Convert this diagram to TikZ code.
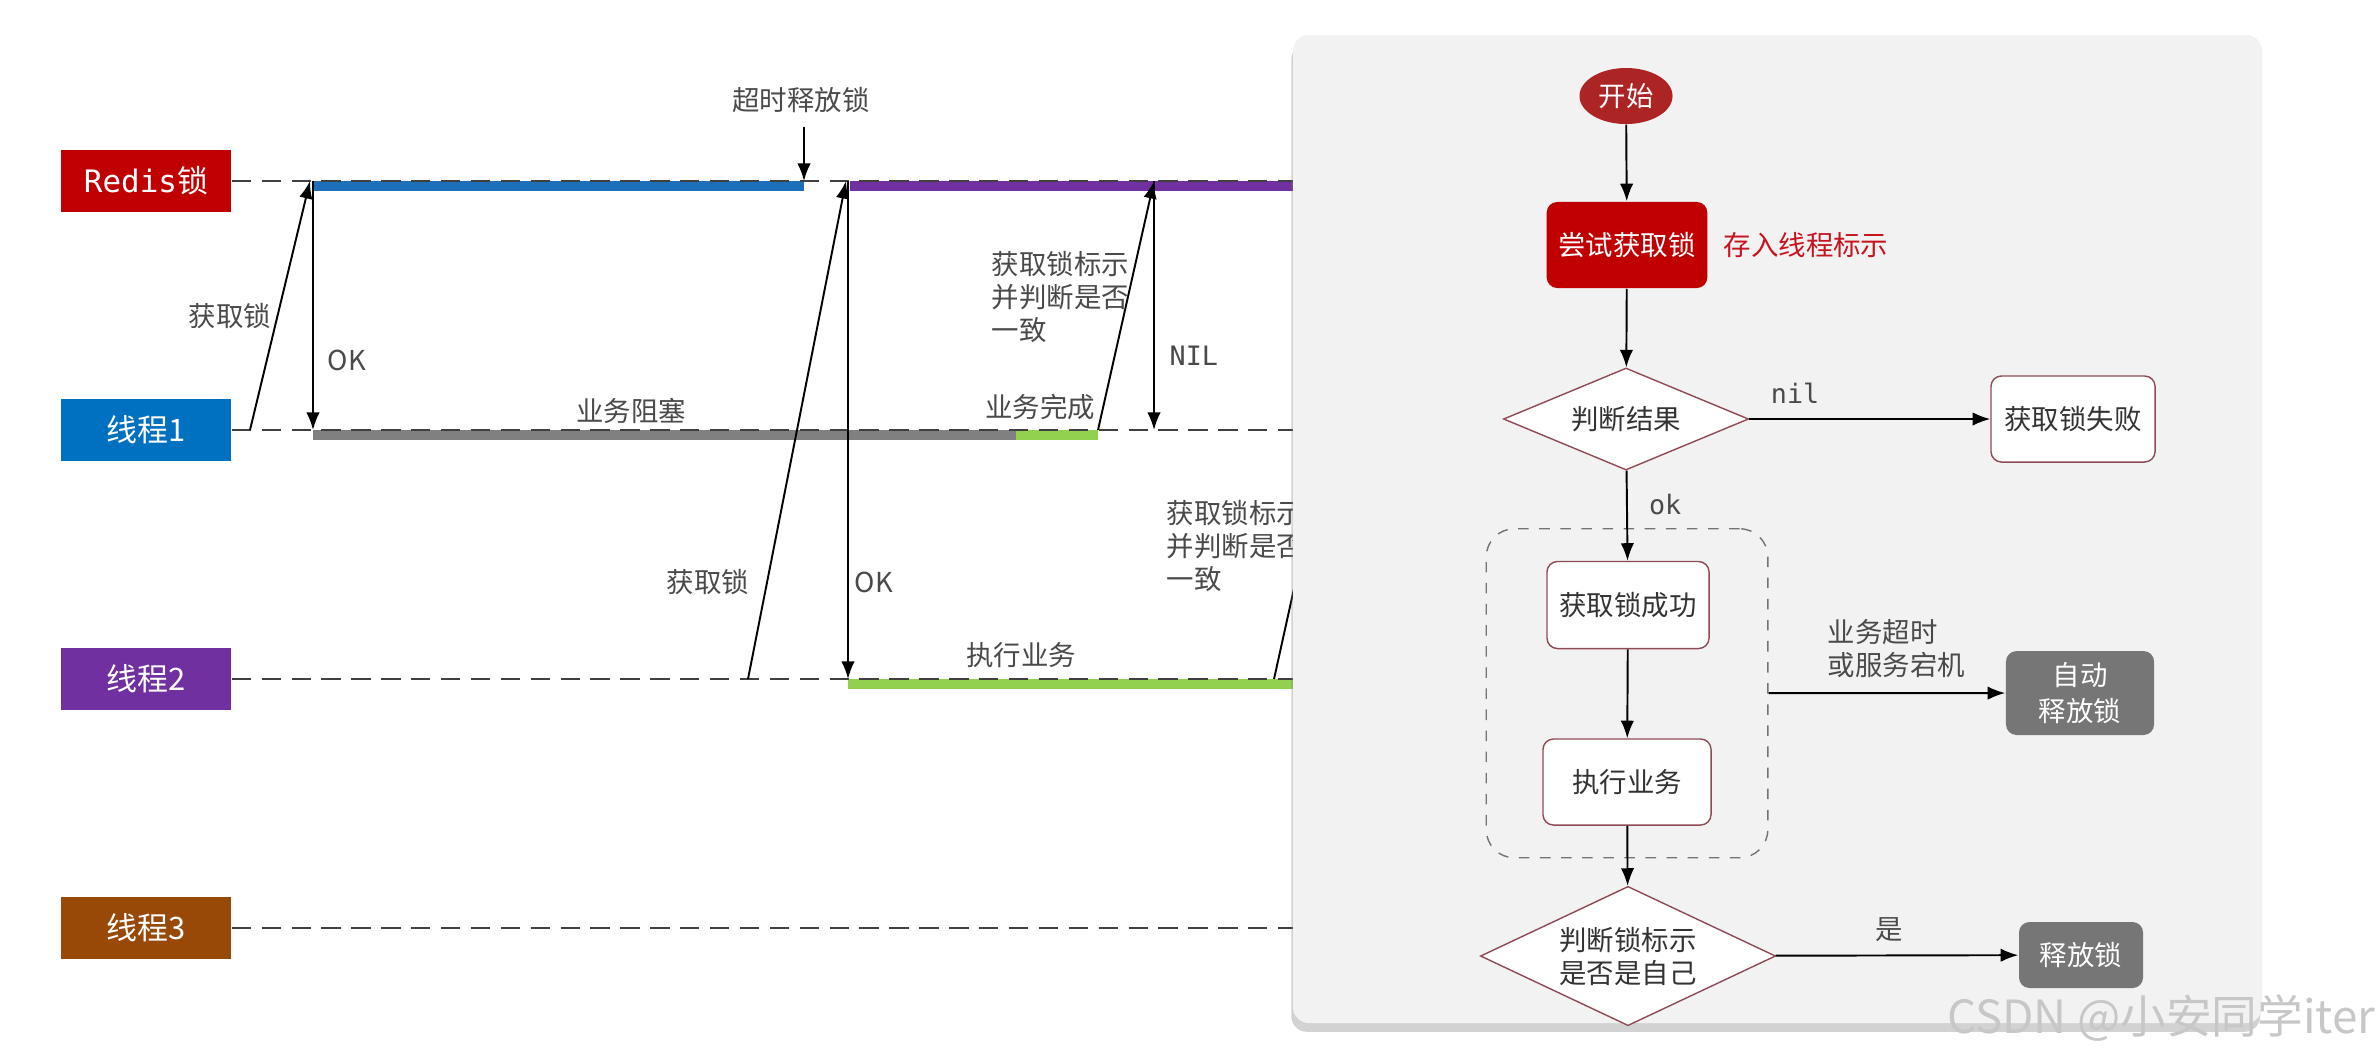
\documentclass[tikz,border=0pt]{standalone}
\usepackage{fontspec}
\setmainfont{Noto Sans CJK SC}
\newfontfamily\monofont{DejaVu Sans Mono}
\usepackage{xcolor}
\definecolor{redislock}{HTML}{C00000}
\definecolor{threadone}{HTML}{0070C0}
\definecolor{threadtwo}{HTML}{7030A0}
\definecolor{threadthree}{HTML}{984807}
\definecolor{barblue}{HTML}{1C6FB8}
\definecolor{bargray}{HTML}{808080}
\definecolor{bargreen}{HTML}{92D050}
\definecolor{dashgray}{HTML}{404040}
\definecolor{labelgray}{HTML}{4A4A4A}
\definecolor{panelgray}{HTML}{F2F2F2}
\definecolor{startred}{HTML}{AD2424}
\definecolor{edgebrown}{HTML}{8E4B55}
\definecolor{autogray}{HTML}{767676}
\definecolor{tipred}{HTML}{C8141E}
\usepackage{tikz}
\usetikzlibrary{shapes.geometric, arrows.meta, positioning, fit, shadows}

\tikzset{
  lane/.style={rectangle, minimum width=1.7cm, minimum height=0.62cm, inner sep=0pt,
    text=white, font=\fontsize{8.8}{10}\selectfont},
  lifeline/.style={draw=dashgray, line width=0.6pt, dash pattern=on 5.5pt off 3pt},
  msg/.style={-{Latex[length=5pt,width=3.8pt]}, line width=0.55pt},
  note/.style={inner sep=0pt, text=labelgray, font=\fontsize{7.8}{9.4}\selectfont, align=left},
  codenote/.style={inner sep=0pt, text=labelgray, font=\monofont\fontsize{7.6}{9}\selectfont},
  stepbox/.style={rectangle, rounded corners=3pt, draw=edgebrown, fill=white, line width=0.4pt,
    text=black!80, font=\fontsize{7.8}{9.4}\selectfont, minimum width=1.64cm, minimum height=0.86cm},
  decision/.style={diamond, draw=edgebrown, fill=white, line width=0.4pt, inner sep=-4pt,
    text=black!80, font=\fontsize{7.8}{9.4}\selectfont, align=center},
  endbox/.style={rectangle, rounded corners=3pt, fill=autogray, text=white,
    font=\fontsize{7.8}{10}\selectfont, align=center},
}

\begin{document}
\begin{tikzpicture}[x=0.01cm, y=-0.01cm]
  \useasboundingbox[fill=white] (0,0) rectangle (2380,1059);

  % lock holder bars
  \foreach \xa/\xb/\yy/\col in {313/804/181/barblue, 850/1300/181/threadtwo,
      313/1016/430/bargray, 1016/1098/430/bargreen, 848/1300/679/bargreen}
    \fill[\col] (\xa,\yy) rectangle (\xb,\yy+10);

  % lanes
  \coordinate (edge) at (1300,0);
  \foreach \name/\txt/\col/\ypos in {redis/{{\monofont Redis}锁}/redislock/181,
      t1/线程1/threadone/430, t2/线程2/threadtwo/679, t3/线程3/threadthree/928}{
    \node[lane, fill=\col] (\name) at (146,\ypos) {\txt};
    \draw[lifeline] (\name.east) -- (\name.east -| edge);
  }

  % messages
  \coordinate (t1-ask) at (250,430);
  \coordinate (r-ask1) at (310,181);
  \coordinate (r-ok1) at (313,181);
  \coordinate (t1-ok) at (313,430);
  \coordinate (t2-ask) at (748,679);
  \coordinate (r-ask2) at (846,181);
  \coordinate (r-ok2) at (848,181);
  \coordinate (t2-ok) at (848,679);
  \coordinate (t1-done) at (1098,430);
  \coordinate (r-check1) at (1154,181);
  \coordinate (t1-nil) at (1154,430);
  \coordinate (t2-done) at (1274,679);
  \coordinate (r-check2) at (1384,181);
  \coordinate (expire-top) at (804,127);
  \coordinate (r-expire) at (804,181);
  \foreach \from/\to in {t1-ask/r-ask1, r-ok1/t1-ok, t2-ask/r-ask2, r-ok2/t2-ok,
      t1-done/r-check1, r-check1/t1-nil, t2-done/r-check2, expire-top/r-expire}
    \draw[msg] (\from) -- (\to);

  \node[note] (timeout) at (801,100) {超时释放锁};
  \node[note] (ask1) at (230,316) {获取锁};
  \node[note, anchor=west] (ok1) at (327,360) {OK};
  \node[note] (blocked) at (631,411) {业务阻塞};
  \node[note] (done1) at (1040,407) {业务完成};
  \node[note, anchor=west] (check1) at (991,297) {获取锁标示\\并判断是否\\一致};
  \node[codenote, anchor=west] (nil1) at (1169,356) {NIL};
  \node[note] (ask2) at (708,582) {获取锁};
  \node[note, anchor=west] (ok2) at (854,582) {OK};
  \node[note] (work2) at (1021,655) {执行业务};
  \node[note, anchor=west] (check2) at (1166,546) {获取锁标示\\并判断是否\\一致};

  % flow panel
  \fill[panelgray, rounded corners=4.5pt,
    drop shadow={shadow xshift=-0.5pt, shadow yshift=-2.5pt, opacity=0.35}]
    (1293,35) rectangle (2262,1023);

  \node[ellipse, fill=startred, text=white, minimum width=0.93cm, minimum height=0.56cm,
    inner sep=0pt, font=\fontsize{7.8}{9.4}\selectfont] (start) at (1626,96) {开始};
  \node[stepbox, fill=redislock, draw=none, text=white, minimum width=1.56cm] (trylock) at (1627,245) {尝试获取锁};
  \node[right=0.15cm of trylock, inner sep=0pt, text=tipred,
    font=\fontsize{7.8}{9.4}\selectfont] (storeid) {存入线程标示};
  \node[decision, minimum width=2.45cm, minimum height=1.02cm] (check) at (1626,419) {判断结果};
  \node[stepbox] (fail) at (2073,419) {获取锁失败};
  \node[stepbox, minimum width=1.62cm, minimum height=0.87cm] (success) at (1628,605) {获取锁成功};
  \node[stepbox, minimum width=1.68cm] (work) at (1627,782) {执行业务};
  \node[draw=black!55, dashed, rounded corners=8pt, fit=(success)(work),
    inner xsep=0.56cm, inner ysep=0.32cm] (group) {};
  \node[decision, minimum width=2.95cm, minimum height=1.03cm] (own) at (1628,956) {判断锁标示\\是否是自己};
  \node[endbox, minimum width=1.48cm, minimum height=0.69cm] (autorelease) at (2080,693) {自动\\释放锁};
  \node[endbox, minimum width=1.24cm, minimum height=0.66cm] (release) at (2081,955) {释放锁};

  \draw[msg] (start) -- (trylock);
  \draw[msg] (trylock) -- (check);
  \draw[msg] (check) -- node[codenote, pos=0.19, above=4pt] (nil2) {nil} (fail);
  \draw[msg] (check) -- node[codenote, pos=0.38, right=6pt] (ok3) {ok} (success);
  \draw[msg] (success) -- (work);
  \draw[msg] (work) -- (own);
  \draw[msg] (group) -- node[note, pos=0.54, above=4pt] (timeout2) {业务超时\\或服务宕机} (autorelease);
  \draw[msg] (own) -- node[note, pos=0.47, above=3.5pt] (yes) {是} (release);

  \node[text=black!22, font=\fontsize{13}{15}\selectfont, anchor=east, inner sep=0pt]
    (mark) at (2376,1018) {CSDN @小安同学iter};
\end{tikzpicture}
\end{document}
